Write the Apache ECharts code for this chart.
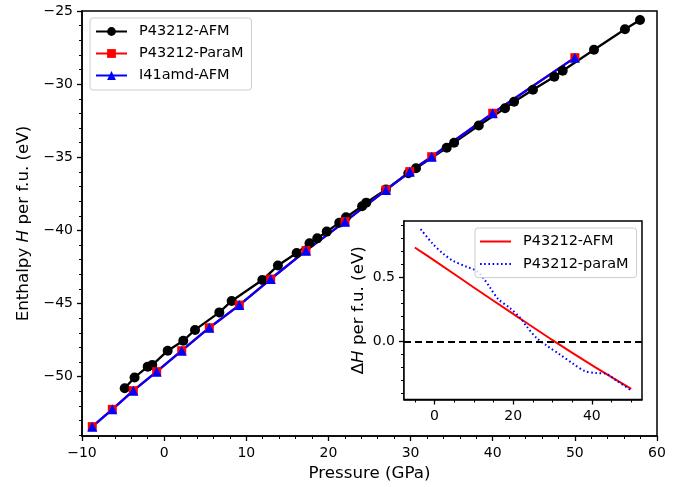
<!DOCTYPE html>
<html>
<head>
<meta charset="utf-8">
<script src="https://cdn.jsdelivr.net/npm/echarts@6/dist/echarts.min.js"></script>
<style>html,body{margin:0;padding:0;background:#fff;}#c{width:682px;height:487px;}</style>
</head>
<body>
<div id="c"></div>
<script>
// ---- main panel data ----
const afmP = [-4.8,-3.6,-2.0,-1.45,0.43,2.33,3.76,6.72,8.22,11.95,13.85,16.13,17.7,18.64,19.79,21.32,22.14,24.1,24.6,27.0,29.73,30.66,34.4,35.3,38.3,41.5,42.6,44.9,47.5,48.52,52.33,56.1,57.93];
const afmH = [-50.79,-50.05,-49.31,-49.2,-48.22,-47.54,-46.8,-45.6,-44.82,-43.39,-42.4,-41.54,-40.88,-40.54,-40.08,-39.47,-39.1,-38.35,-38.1,-37.2,-36.09,-35.75,-34.35,-34.0,-32.83,-31.65,-31.2,-30.38,-29.49,-29.08,-27.65,-26.25,-25.62];
const paraP = [-8.75,-6.31,-3.75,-0.91,2.14,5.5,9.15,12.97,17.27,22.02,27.0,29.9,32.57,40.0,50.0];
const paraH = [-53.41,-52.23,-50.95,-49.65,-48.22,-46.65,-45.1,-43.32,-41.38,-39.4,-37.24,-35.98,-34.96,-31.99,-28.19];
const i41P = [-8.75,-6.31,-3.75,-0.91,2.14,5.5,9.15,12.97,17.27,22.02,27.0,29.9,32.57,40.0,50.0];
const i41H = [-53.41,-52.23,-50.95,-49.65,-48.22,-46.65,-45.1,-43.32,-41.38,-39.4,-37.24,-35.98,-34.96,-31.99,-28.19];
const mainYMajor = [-50,-45,-40,-35,-30,-25];
const mainYMinor = [-54,-53,-52,-51,-49,-48,-47,-46,-44,-43,-42,-41,-39,-38,-37,-36,-34,-33,-32,-31,-29,-28,-27,-26];

// ---- inset data ----
const dAfmP = [-5,0,10,20,30,40,50];
const dAfmH = [0.73,0.628,0.42,0.215,0.012,-0.182,-0.366];
const dParaP = [-3.5,-0.5,2.3,4.8,8.2,10.7,12.5,14.1,16.2,19.2,21.7,23.4,25.9,28.5,31.8,35.2,38.2,41.1,43.6,46.2,50.0];
const dParaH = [0.872,0.76,0.68,0.625,0.58,0.548,0.49,0.42,0.33,0.26,0.188,0.12,0.03,-0.03,-0.098,-0.17,-0.228,-0.243,-0.248,-0.30,-0.377];
const insetXMajor = [0,20,40];
const insetXMinor = [-5,5,10,15,25,30,35,45,50];
const insetYMajor = [0,0.5];
const insetYMinor = [-0.4,-0.3,-0.2,-0.1,0.1,0.2,0.3,0.4,0.6,0.7,0.8,0.9];

const zip = (a,b) => a.map((v,i)=>[v,b[i]]);
const FF = 'DejaVu Sans';
const minus = s => String(s).replace('-', '\u2212');
const lbl = {color:'#000', fontFamily:FF, fontSize:14};
const ttl = {color:'#000', fontFamily:FF, fontSize:16.7};

const chart = echarts.init(document.getElementById('c'), null, {renderer:'canvas'});
const axLine = {onZero:false, lineStyle:{color:'#000', width:1.5}};
chart.setOption({
  animation:false,
  backgroundColor:'#fff',
  grid:[
    {left:82, top:11, right:25, bottom:51, show:true, borderColor:'#000', borderWidth:1.5, backgroundColor:'transparent'},
    {left:404, top:221, right:40, bottom:87.5, show:true, borderColor:'#000', borderWidth:1.5, backgroundColor:'#fff', z:3}
  ],
  legend:[
    {left:90, top:18, orient:'vertical', padding:[6,8,7,5], itemGap:7, itemWidth:31, itemHeight:11,
     borderColor:'#ccc', borderWidth:1, borderRadius:3, backgroundColor:'rgba(255,255,255,0.8)',
     textStyle:{color:'#000', fontFamily:FF, fontSize:14.5, padding:[0,0,0,7]},
     data:['P43212-AFM','P43212-ParaM','I41amd-AFM']},
    {left:475, top:228, orient:'vertical', padding:[6,8,6,4], itemGap:7.6, itemWidth:31, itemHeight:14,
     borderColor:'#ccc', borderWidth:1, borderRadius:3, backgroundColor:'rgba(255,255,255,0.8)', z:5,
     textStyle:{color:'#000', fontFamily:FF, fontSize:14.5, padding:[0,0,0,7]},
     data:[{name:'P43212-AFM ', itemStyle:{opacity:0}}, {name:'P43212-paraM', itemStyle:{opacity:0}}]}
  ],
  xAxis:[
    {gridIndex:0, type:'value', position:'bottom', min:-10, max:60, interval:10, axisLine:axLine,
     axisTick:{length:5, lineStyle:{color:'#000', width:1.3}},
     minorTick:{show:true, splitNumber:5, length:3, lineStyle:{color:'#000', width:1}},
     splitLine:{show:false}, minorSplitLine:{show:false},
     axisLabel:Object.assign({margin:10, formatter:v=>minus(v)}, lbl),
     name:'Pressure (GPa)', nameLocation:'middle', nameGap:28.5, nameTextStyle:ttl},
    {gridIndex:1, type:'value', position:'bottom', min:-7.75, max:52.75, axisLine:axLine,
     axisTick:{customValues:insetXMajor, length:5, lineStyle:{color:'#000', width:1.3}},
     splitLine:{show:false},
     axisLabel:Object.assign({customValues:insetXMajor, margin:10, formatter:v=>minus(v)}, lbl)},
    {gridIndex:1, type:'value', position:'bottom', min:-7.75, max:52.75, axisLine:{show:false, onZero:false},
     axisTick:{customValues:insetXMinor, length:3, lineStyle:{color:'#000', width:1}},
     splitLine:{show:false}, axisLabel:{show:false}}
  ],
  yAxis:[
    {gridIndex:0, type:'value', position:'left', min:-54.05, max:-25, axisLine:axLine,
     axisTick:{customValues:mainYMajor, length:5, lineStyle:{color:'#000', width:1.3}},
     splitLine:{show:false},
     axisLabel:Object.assign({customValues:mainYMajor, margin:9, formatter:v=>minus(v)}, lbl),
     name:'Enthalpy {i|H} per f.u. (eV)', nameLocation:'middle', nameGap:48.6,
     nameTextStyle:Object.assign({rich:{i:{fontStyle:'italic', fontFamily:FF, fontSize:16.7, color:'#000'}}}, ttl)},
    {gridIndex:0, type:'value', position:'left', min:-54.05, max:-25, axisLine:{show:false, onZero:false},
     axisTick:{customValues:mainYMinor, length:3, lineStyle:{color:'#000', width:1}},
     splitLine:{show:false}, axisLabel:{show:false}},
    {gridIndex:1, type:'value', position:'left', min:-0.448, max:0.935, axisLine:axLine,
     axisTick:{customValues:insetYMajor, length:5, lineStyle:{color:'#000', width:1.3}},
     splitLine:{show:false},
     axisLabel:Object.assign({customValues:insetYMajor, margin:9, formatter:v=>v.toFixed(1)}, lbl),
     name:'\u0394{i|H} per f.u. (eV)', nameLocation:'middle', nameGap:36.6,
     nameTextStyle:Object.assign({rich:{i:{fontStyle:'italic', fontFamily:FF, fontSize:16.7, color:'#000'}}}, ttl)},
    {gridIndex:1, type:'value', position:'left', min:-0.448, max:0.935, axisLine:{show:false, onZero:false},
     axisTick:{customValues:insetYMinor, length:3, lineStyle:{color:'#000', width:1}},
     splitLine:{show:false}, axisLabel:{show:false}}
  ],
  series:[
    {name:'P43212-AFM', type:'line', xAxisIndex:0, yAxisIndex:0, data:zip(afmP,afmH),
     symbol:'circle', symbolSize:10, lineStyle:{color:'#000', width:2.3}, itemStyle:{color:'#000'}},
    {name:'P43212-ParaM', type:'line', xAxisIndex:0, yAxisIndex:0, data:zip(paraP,paraH),
     symbol:'rect', symbolSize:9, lineStyle:{color:'#f00', width:2.3}, itemStyle:{color:'#f00'}},
    {name:'I41amd-AFM', type:'line', xAxisIndex:0, yAxisIndex:0, data:zip(i41P,i41H),
     symbol:'triangle', symbolSize:10, lineStyle:{color:'#00f', width:2.3}, itemStyle:{color:'#00f'}},
    {name:'P43212-AFM ', type:'line', xAxisIndex:1, yAxisIndex:2, data:zip(dAfmP,dAfmH), z:4,
     symbol:'none', smooth:0.3, lineStyle:{color:'#f00', width:2}, itemStyle:{color:'#f00'},
     markLine:{silent:true, symbol:'none', label:{show:false}, data:[{yAxis:0}],
       lineStyle:{color:'#000', type:[7,4], width:2}}},
    {name:'P43212-paraM', type:'line', xAxisIndex:1, yAxisIndex:2, data:zip(dParaP,dParaH), z:4,
     symbol:'none', smooth:0.3, lineStyle:{color:'#00f', width:2, type:[1.6,2.6]}, itemStyle:{color:'#00f'}}
  ]
});
</script>
</body>
</html>
